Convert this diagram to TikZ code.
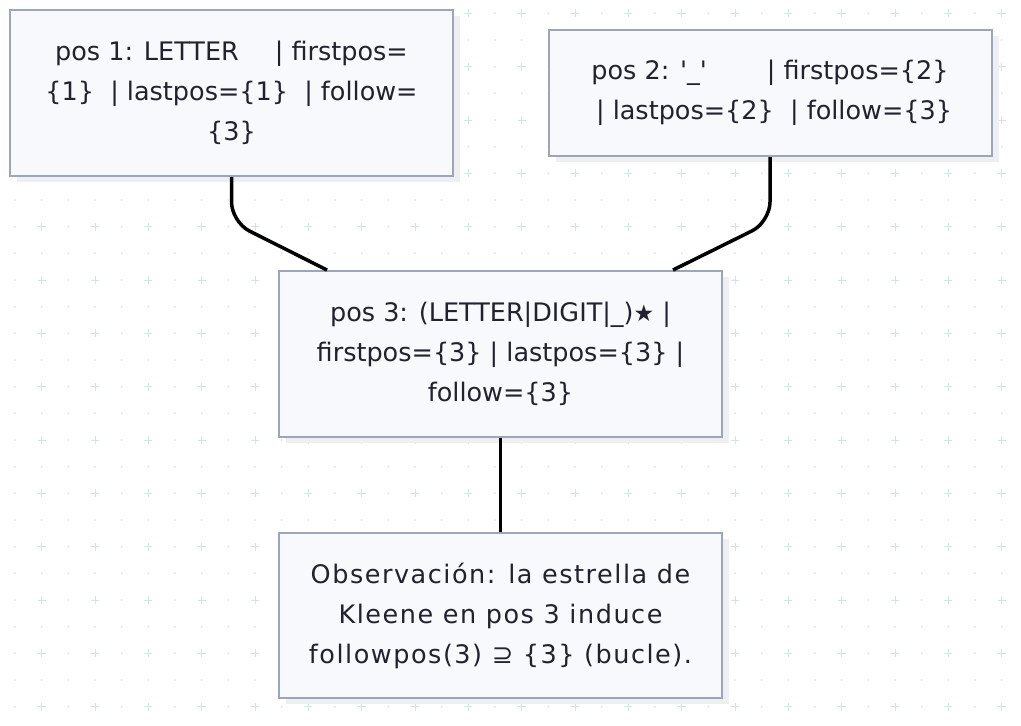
\documentclass[tikz,border=0pt]{standalone}
\usepackage{fontspec}
\setmainfont{DejaVu Sans}
\newfontfamily\obsfont[LetterSpace=6]{DejaVu Sans}
\usetikzlibrary{positioning,shadows}
\definecolor{boxfill}{HTML}{F8F9FC}
\definecolor{boxline}{HTML}{9CA6B8}
\definecolor{gridcross}{HTML}{CFE6E4}
\definecolor{griddot}{HTML}{DCE2E2}
\definecolor{shade}{HTML}{EEEFF2}
\definecolor{txt}{HTML}{22222F}

\begin{document}
\begin{tikzpicture}[x=1pt,y=-1pt,
  posbox/.style={draw=boxline,line width=2pt,fill=boxfill,text=txt,align=center,
    minimum width=443pt,inner sep=0pt,font=\fontsize{25.5}{40}\selectfont,
    drop shadow={shadow xshift=7pt,shadow yshift=-6pt,fill=shade,opacity=1}},
  link/.style={line width=3.5pt,rounded corners=20pt}]
\useasboundingbox (0,0) rectangle (1021,726);
% dotted background
\foreach \i in {0,...,38}
  \foreach \j in {0,...,27}
    \fill[griddot] (15+26.667*\i,13.333+26.667*\j) circle (1pt);
\foreach \i in {0,...,18}
  \foreach \j in {0,...,13}
    \draw[gridcross,line width=1pt] (37.667+53.333*\i,13.333+53.333*\j) -- ++(8,0)
      ++(-4,-4) -- ++(0,8);
% positions
\node[posbox,minimum height=166pt] (p1) at (231.5,93)
  {pos 1: LETTER\hspace{36pt}| firstpos=\\\{1\}\ \ | lastpos=\{1\}\ \ | follow=\\\{3\}};
\node[posbox,minimum height=126pt] (p2) at (770,93)
  {pos 2: \textquotesingle\_\textquotesingle\hspace{60pt}| firstpos=\{2\}\\\ | lastpos=\{2\}\ \ | follow=\{3\}};
\node[posbox,minimum height=166pt] (p3) at (500.5,354)
  {pos 3: (LETTER|DIGIT|\_){\fontsize{23}{40}\selectfont ★} |\\firstpos=\{3\} | lastpos=\{3\} |\\follow=\{3\}};
\node[posbox,minimum height=165pt,font=\obsfont\fontsize{25.5}{40}\selectfont] (p4) at (500.5,615.5)
  {Observación: la estrella de\\Kleene en pos 3 induce\\followpos(3) ⊇ \{3\} (bucle).};
% links
\draw[link] (p1.south) -- ++(0,45) -- ([xshift=49pt]p3.north west);
\draw[link] (p2.south) -- ++(0,65) -- ([xshift=-50pt]p3.north east);
\draw[link] (p3.south) -- (p4.north);
\end{tikzpicture}
\end{document}
